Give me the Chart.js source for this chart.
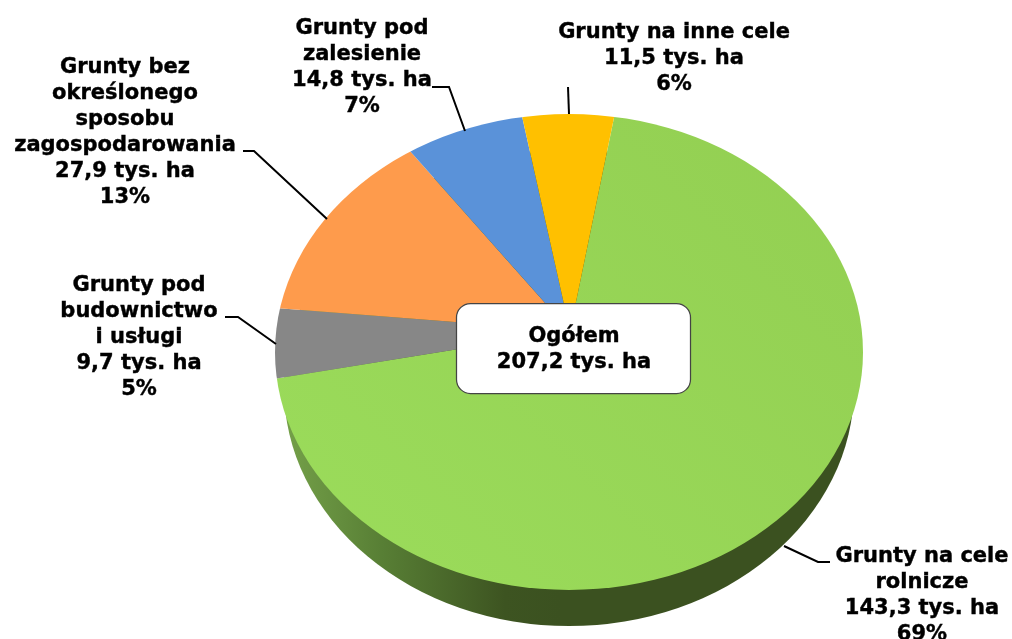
<!DOCTYPE html>
<html>
<head>
<meta charset="utf-8">
<style>
  html, body { margin: 0; padding: 0; background: #fff; overflow: hidden; }
  canvas { display: block; }
</style>
</head>
<body>
<canvas id="myChart" width="1012" height="639"></canvas>
<script src="https://cdn.jsdelivr.net/npm/chart.js@4"></script>
<script>
const categories = ["Grunty na cele rolnicze", "Grunty pod budownictwo i usługi", "Grunty bez określonego sposobu zagospodarowania", "Grunty pod zalesienie", "Grunty na inne cele"];
const values = [143.3, 9.7, 27.9, 14.8, 11.5];
const sliceColors = ["#97d556", "#878787", "#fe9b4c", "#5a92d9", "#ffc000"];

// label text, centre x, first line y
const labelLines = [
  ["Grunty na cele", "rolnicze", "143,3 tys. ha", "69%"],
  ["Grunty pod", "budownictwo", "i usługi", "9,7 tys. ha", "5%"],
  ["Grunty bez", "określonego", "sposobu", "zagospodarowania", "27,9 tys. ha", "13%"],
  ["Grunty pod", "zalesienie", "14,8 tys. ha", "7%"],
  ["Grunty na inne cele", "11,5 tys. ha", "6%"],
];
const labelX = [922, 139, 125, 362, 674];
const labelY = [557, 286, 68, 29, 33];
const leaders = [
  [[830, 562], [818, 562], [784, 546]],
  [[225, 317], [238, 317], [276, 344]],
  [[243, 151], [254, 151], [327, 219]],
  [[432, 87], [449, 87], [465, 131]],
  [[568, 87], [569, 114]],
];
const totalLines = ["Ogółem", "207,2 tys. ha"];

const font = 'bold 21px "DejaVu Sans"';
const lineHeight = 26;

// top ellipse, and the point where the slices meet (Excel perspective puts it above the centre)
const top3d = { x: 569, y: 352, rx: 294, ry: 238 };
const bottom3d = { x: 569, y: 388, rx: 285, ry: 238 };
const apex = { x: 570, y: 331, kTop: 0.82, kBottom: 0.8 };

const pie3d = {
  id: "pie3d",
  beforeDatasetDraw(chart, args) {
    const c = chart.ctx;
    const arcs = args.meta.data;
    const cx = arcs[0].x, cy = arcs[0].y;

    // side wall
    const side = c.createLinearGradient(285, 0, 560, 0);
    side.addColorStop(0, "#74a049");
    side.addColorStop(0.35, "#587f35");
    side.addColorStop(0.8, "#3d5421");
    side.addColorStop(1, "#3b5120");
    c.fillStyle = side;
    c.beginPath();
    c.ellipse(bottom3d.x, bottom3d.y, bottom3d.rx, bottom3d.ry, 0, 0, Math.PI * 2);
    c.fill();

    // top face: two halves with different vertical scale, cut to the true ellipse
    const halves = [
      [0, apex.y, apex.kTop],
      [apex.y, 639 - apex.y, apex.kBottom],
    ];
    halves.forEach(([y, h, k]) => {
      c.save();
      c.beginPath();
      c.ellipse(top3d.x, top3d.y, top3d.rx, top3d.ry, 0, 0, Math.PI * 2);
      c.clip();
      c.beginPath();
      c.rect(0, y, 1012, h);
      c.clip();
      c.translate(apex.x, apex.y);
      c.scale(1, k);
      c.translate(-cx, -cy);
      arcs.forEach((a) => a.draw(c));
      c.restore();
    });
    return false;
  },
  afterDatasetsDraw(chart) {
    const c = chart.ctx;
    c.save();
    c.strokeStyle = "#000";
    c.lineWidth = 2;
    leaders.forEach((pts) => {
      c.beginPath();
      pts.forEach((p, i) => (i ? c.lineTo(p[0], p[1]) : c.moveTo(p[0], p[1])));
      c.stroke();
    });

    // box in the middle
    c.fillStyle = "#fff";
    c.strokeStyle = "#444";
    c.lineWidth = 1.25;
    c.beginPath();
    c.roundRect(456.5, 303.5, 234, 90, 14);
    c.fill();
    c.stroke();

    c.fillStyle = "#000";
    c.strokeStyle = "#000";
    c.lineWidth = 0.4;
    c.font = font;
    c.textAlign = "center";
    c.textBaseline = "middle";
    const put = (t, x, y) => {
      c.fillText(t, x, y);
      c.strokeText(t, x, y);
    };
    labelLines.forEach((lines, i) => {
      lines.forEach((t, j) => put(t, labelX[i], labelY[i] + j * lineHeight));
    });
    totalLines.forEach((t, j) => put(t, 574, 337 + j * lineHeight));
    c.restore();
  },
};

const ctx = document.getElementById("myChart");
const myChart = new Chart(ctx, {
  type: "pie",
  data: {
    labels: categories,
    datasets: [
      {
        data: values,
        borderWidth: 0,
        backgroundColor: (context) => {
          if (context.dataIndex !== 0) return sliceColors[context.dataIndex];
          // green face is a little lighter towards lower left
          const g = context.chart.ctx.createLinearGradient(200, 600, 800, 100);
          g.addColorStop(0, "#9bdc5b");
          g.addColorStop(1, "#93cf52");
          return g;
        },
      },
    ],
  },
  options: {
    responsive: false,
    animation: false,
    rotation: 9.6,
    radius: 380,
    plugins: { legend: { display: false }, tooltip: { enabled: false } },
  },
  plugins: [pie3d],
});
</script>
</body>
</html>
